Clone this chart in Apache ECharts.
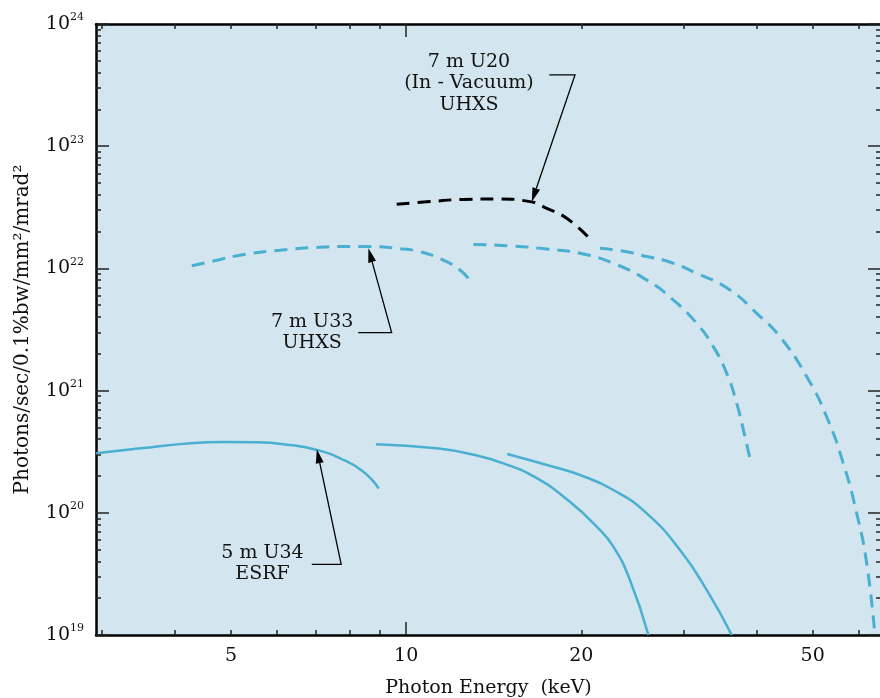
<!DOCTYPE html>
<html lang="en">
<head>
<meta charset="UTF-8">
<title>Undulator brilliance</title>
<script src="https://cdn.jsdelivr.net/npm/echarts@6/dist/echarts.min.js"></script>
<style>html,body{margin:0;padding:0;overflow:hidden;background:#fff;}</style>
</head>
<body>
<div id="main" style="width:880px;height:698px;"></div>
<script>
// photon energy (keV) and brilliance (photons/sec/0.1%bw/mm2/mrad2)
var u34h1Energy = [2.93, 3.49, 4.25, 4.85, 5.53, 6.31, 7.02, 7.70, 8.44, 8.97];
var u34h1Flux   = [3.07e20, 3.37e20, 3.71e20, 3.80e20, 3.78e20, 3.59e20, 3.27e20, 2.79e20, 2.17e20, 1.58e20];
var u34h3Energy = [8.87, 11.28, 12.88, 14.69, 16.77, 19.12, 21.26, 22.71, 24.25, 26.09];
var u34h3Flux   = [3.64e20, 3.37e20, 3.03e20, 2.54e20, 1.92e20, 1.23e20, 7.7e19, 5.28e19, 2.82e19, 1.0e19];
var u34h5Energy = [14.92, 17.90, 19.90, 22.71, 25.92, 29.57, 32.86, 36.29];
var u34h5Flux   = [3.03e20, 2.38e20, 2.04e20, 1.537e20, 9.9e19, 4.96e19, 2.34e19, 1.0e19];

var u33h1Energy = [4.28, 4.66, 5.32, 6.07, 6.92, 7.90, 8.66, 9.63, 10.56, 11.58, 12.37, 12.92];
var u33h1Flux   = [1.05e22, 1.15e22, 1.31e22, 1.41e22, 1.48e22, 1.51e22, 1.51e22, 1.46e22, 1.37e22, 1.17e22, 9.7e21, 7.8e21];
var u33h3Energy = [13.05, 15.28, 17.45, 19.90, 22.71, 25.92, 28.80, 31.59, 33.73, 35.57, 37.01, 38.24, 39.00];
var u33h3Flux   = [1.57e22, 1.525e22, 1.44e22, 1.33e22, 1.10e22, 8.04e21, 5.51e21, 3.55e21, 2.29e21, 1.386e21, 7.87e20, 4.20e20, 2.79e20];
var u33h5Energy = [21.54, 23.94, 25.92, 28.05, 31.59, 36.04, 40.06, 43.92, 48.84, 52.84, 56.44, 59.52, 61.92, 63.97];
var u33h5Flux   = [1.46e22, 1.37e22, 1.25e22, 1.15e22, 9.12e21, 6.66e21, 4.29e21, 2.76e21, 1.30e21, 6.11e20, 2.54e20, 9.9e19, 3.86e19, 1.0e19];

var u20Energy = [9.63, 10.99, 12.54, 14.31, 16.33, 17.45, 18.88, 20.56];
var u20Flux   = [3.35e22, 3.52e22, 3.67e22, 3.70e22, 3.52e22, 3.10e22, 2.57e22, 1.80e22];

// axis ticks
var xTickLabels = [5, 10, 20, 50];
var xMajorTicks = [10];
var xMinorTicks = [3, 4, 5, 6, 7, 8, 9, 20, 30, 40, 50, 60];
var yDecades = [19, 20, 21, 22, 23, 24];

// callouts (text centre, leader start, elbow, arrow tip) in data units
var noteText  = ['7 m U20\n(In - Vacuum)\nUHXS', '7 m U33\nUHXS', '5 m U34\nESRF'];
var noteAt    = [[12.82, 3.27e23], [6.89, 2.99e21], [5.66, 3.83e19]];
var noteStart = [[17.62, 3.83e23], [8.27, 2.98e21], [6.88, 3.79e19]];
var noteElbow = [[19.51, 3.83e23], [9.44, 2.98e21], [7.73, 3.79e19]];
var noteTip   = [[16.44, 3.51e22], [8.61, 1.46e22], [7.02, 3.31e20]];

var FONT = 'DejaVu Serif';
var BLUE = '#4aafd0';
var xMin = 2.928, xMax = 65.53;
var lx0 = Math.log10(xMin), lx1 = Math.log10(xMax);

function logs(arr) { return arr.map(function (v) { return Math.log10(v); }); }

var yMinorLog = [];
yDecades.slice(0, -1).forEach(function (d) {
    for (var k = 2; k < 10; k++) yMinorLog.push(d + Math.log10(k));
});

function tickAxis(kind, pos, vals, len, line) {
    return {
        type: 'value', position: pos,
        min: kind === 'x' ? lx0 : yDecades[0],
        max: kind === 'x' ? lx1 : yDecades[yDecades.length - 1],
        axisLine: { show: !!line, onZero: false, lineStyle: { color: '#000', width: 2.5 } },
        axisTick: { show: true, inside: true, length: len, customValues: vals,
            lineStyle: { color: '#222', width: 1.5 } },
        axisLabel: { show: false },
        splitLine: { show: false }
    };
}

function curve(name, E, F, color, dashed, width) {
    return {
        name: name, type: 'line', xAxisIndex: 0, yAxisIndex: 0,
        data: E.map(function (e, i) { return [e, F[i]]; }),
        showSymbol: false, symbol: 'none', smooth: 0.5, silent: true, z: 3,
        lineStyle: { color: color, width: width, type: dashed ? [13, 8] : 'solid', cap: 'butt' }
    };
}

var xMain = tickAxis('x', 'bottom', logs(xMajorTicks), 13, true);
xMain.axisLabel = {
    show: true, customValues: logs(xTickLabels), margin: 12,
    color: '#111', fontFamily: FONT, fontSize: 19,
    formatter: function (v) { return String(Math.round(Math.pow(10, v))); }
};
xMain.name = 'Photon Energy  (keV)';
xMain.nameLocation = 'middle';
xMain.nameGap = 44;
xMain.nameTextStyle = { color: '#111', fontFamily: FONT, fontSize: 19 };

var yMain = tickAxis('y', 'left', yDecades, 13, true);
yMain.axisLabel = {
    show: true, customValues: yDecades, margin: 12,
    formatter: function (v) { return '{b|10}{s|' + Math.round(v) + '}'; },
    rich: {
        b: { fontFamily: FONT, fontSize: 19, lineHeight: 24, color: '#111' },
        s: { fontFamily: FONT, fontSize: 11, lineHeight: 12, verticalAlign: 'top', color: '#111' }
    }
};
yMain.name = 'Photons/sec/0.1%bw/mm²/mrad²';
yMain.nameLocation = 'middle';
yMain.nameGap = 63;
yMain.nameTextStyle = { color: '#111', fontFamily: FONT, fontSize: 20 };

var chart = echarts.init(document.getElementById('main'));
chart.setOption({
    animation: false,
    backgroundColor: '#fff',
    grid: {
        left: 96, right: -1, top: 24, bottom: 63,
        show: true, backgroundColor: '#d3e6ef', borderWidth: 0, borderColor: 'transparent',
        containLabel: false, outerBoundsMode: 'none'
    },
    xAxis: [
        { type: 'log', logBase: 10, min: xMin, max: xMax, show: false },
        xMain,
        tickAxis('x', 'bottom', logs(xMinorTicks), 5, false),
        tickAxis('x', 'top', logs(xMajorTicks), 13, true),
        tickAxis('x', 'top', logs(xMinorTicks), 5, false)
    ],
    yAxis: [
        { type: 'log', logBase: 10, min: 1e19, max: 1e24, show: false },
        yMain,
        tickAxis('y', 'left', yMinorLog, 5, false),
        tickAxis('y', 'right', yDecades, 13, false),
        tickAxis('y', 'right', yMinorLog, 5, false)
    ],
    series: [
        curve('U34 1st', u34h1Energy, u34h1Flux, BLUE, false, 2.5),
        curve('U34 3rd', u34h3Energy, u34h3Flux, BLUE, false, 2.5),
        curve('U34 5th', u34h5Energy, u34h5Flux, BLUE, false, 2.5),
        curve('U33 1st', u33h1Energy, u33h1Flux, BLUE, true, 3),
        curve('U33 3rd', u33h3Energy, u33h3Flux, BLUE, true, 3),
        curve('U33 5th', u33h5Energy, u33h5Flux, BLUE, true, 3),
        curve('U20', u20Energy, u20Flux, '#000', true, 3)
    ]
});

// callouts: text, leader line and filled arrow head
var toPx = function (p) { return chart.convertToPixel({ xAxisIndex: 0, yAxisIndex: 0 }, p); };
var graphics = [];
noteText.forEach(function (txt, i) {
    var c = toPx(noteAt[i]), s = toPx(noteStart[i]), e = toPx(noteElbow[i]), t = toPx(noteTip[i]);
    var dx = t[0] - e[0], dy = t[1] - e[1], d = Math.sqrt(dx * dx + dy * dy);
    var ux = dx / d, uy = dy / d, bx = t[0] - ux * 14, by = t[1] - uy * 14;
    graphics.push({
        type: 'text', z: 10, silent: true,
        style: { text: txt, x: c[0], y: c[1], textAlign: 'center', textVerticalAlign: 'middle',
            fontFamily: FONT, fontSize: 19, lineHeight: 21.5, fill: '#111' }
    });
    graphics.push({
        type: 'polyline', z: 10, silent: true,
        shape: { points: [s, e, [bx, by]] },
        style: { stroke: '#000', lineWidth: 1.3, fill: null }
    });
    graphics.push({
        type: 'polygon', z: 10, silent: true,
        shape: { points: [t, [bx - uy * 4, by + ux * 4], [bx + uy * 4, by - ux * 4]] },
        style: { fill: '#000' }
    });
});
chart.setOption({ graphic: graphics });
</script>
</body>
</html>
